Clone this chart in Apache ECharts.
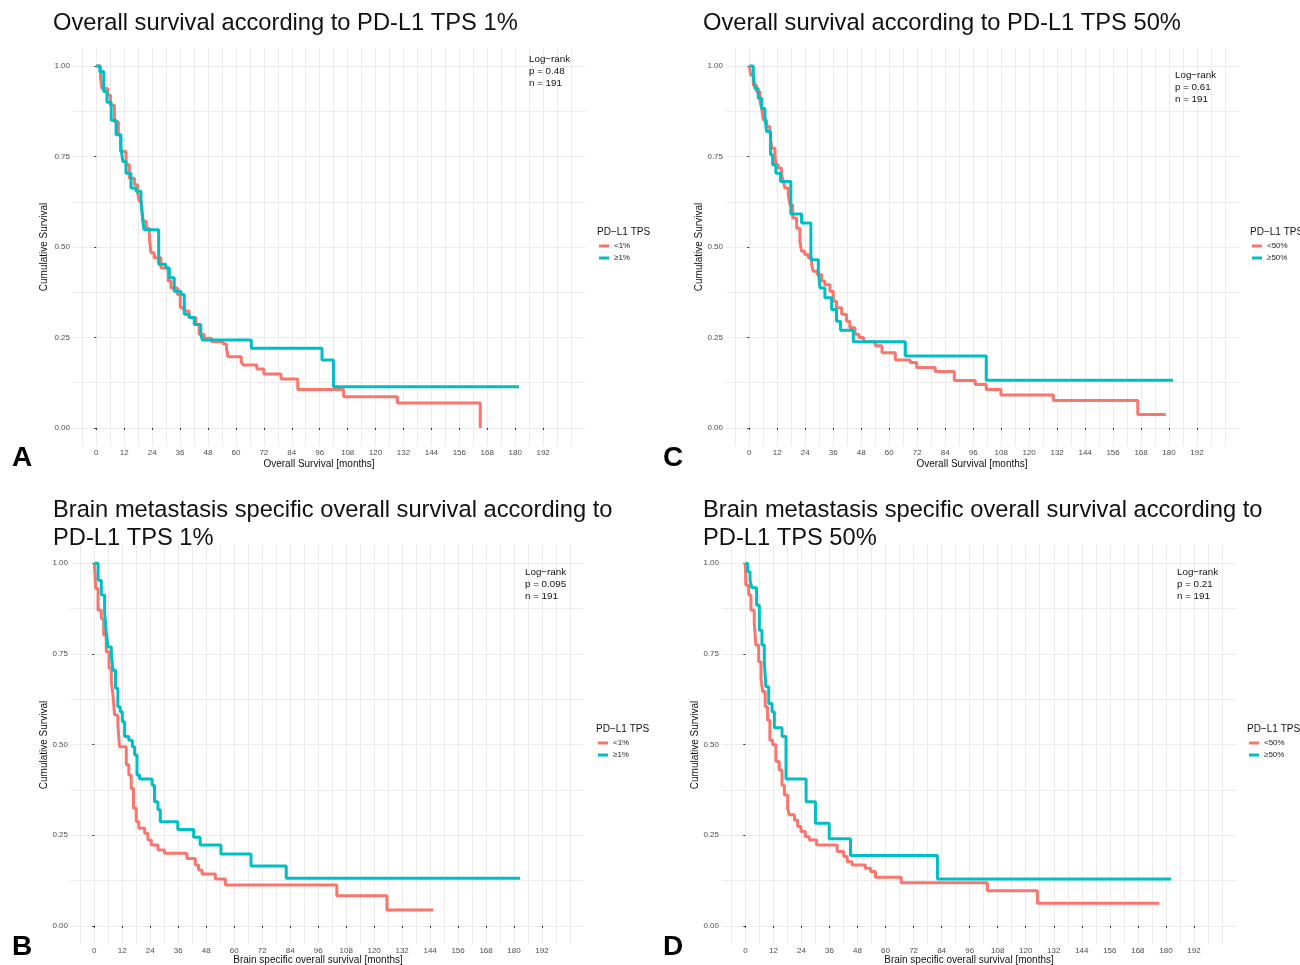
<!DOCTYPE html>
<html>
<head>
<meta charset="utf-8">
<script src="https://cdn.jsdelivr.net/npm/echarts@6/dist/echarts.min.js"></script>
<style>
  html, body { margin: 0; background: #fff; }
  #chart { width: 1300px; height: 965px; }
</style>
</head>
<body>
<div id="chart"></div>
<script>
(() => {
  "use strict";

  // axis breaks (months / survival)
  const xTicks = [0, 12, 24, 36, 48, 60, 72, 84, 96, 108, 120, 132, 144, 156, 168, 180, 192];
  const xGrid = [-6, 0, 6, 12, 18, 24, 30, 36, 42, 48, 54, 60, 66, 72, 78, 84, 90, 96, 102, 108, 114, 120,
    126, 132, 138, 144, 150, 156, 162, 168, 174, 180, 186, 192, 198, 204];
  const yTicks = [0, 0.25, 0.5, 0.75, 1];
  const yGrid = [0, 0.125, 0.25, 0.375, 0.5, 0.625, 0.75, 0.875, 1];

  // A: overall survival, TPS 1%
  const osTps1LowT = [0, 1.8, 2.4, 4.9, 6.1, 7.8, 9.5, 10.4, 12.8, 14.2, 16.4, 17.8, 18.5, 19.5, 20.1, 21.5, 22.8, 23.5,
    24.9, 27.8, 30.9, 32.1, 34.9, 36.1, 37.8, 39.9, 42.8, 44.2, 46.4, 49.5, 54.5, 56, 56.6, 62.3, 63, 69, 72, 79.4,
    86.6, 106.3, 129.4, 165];
  const osTps1LowS = [1, 0.97, 0.938, 0.92, 0.892, 0.846, 0.81, 0.764, 0.727, 0.69, 0.672, 0.649, 0.626, 0.608, 0.571,
    0.552, 0.525, 0.484, 0.47, 0.442, 0.406, 0.387, 0.369, 0.332, 0.323, 0.305, 0.286, 0.259, 0.248, 0.238, 0.232,
    0.218, 0.197, 0.183, 0.174, 0.163, 0.149, 0.135, 0.106, 0.086, 0.069, 0];
  const osTps1HighT = [0, 1.5, 3.2, 4.6, 6.4, 8.5, 10.6, 11.4, 12.8, 14.9, 17.1, 19.2, 19.9, 20.5, 26.8, 29.9, 31.4,
    33.5, 36.4, 37.8, 39.9, 42.1, 44.9, 45.6, 66.6, 97, 101.9, 181.6];
  const osTps1HighS = [1, 0.985, 0.93, 0.9, 0.85, 0.81, 0.775, 0.736, 0.704, 0.663, 0.654, 0.626, 0.58, 0.548, 0.452,
    0.442, 0.415, 0.378, 0.369, 0.314, 0.305, 0.286, 0.259, 0.243, 0.22, 0.188, 0.114, 0.114];

  // C: overall survival, TPS 50%
  const osTps50LowT = [0, 0.6, 1.7, 3.1, 4.6, 5.3, 6, 7.4, 8.8, 9.6, 11, 11.4, 12.4, 13.8, 14.6, 15.3, 16.7, 17.4, 18.6,
    20.3, 21.7, 22.4, 23.8, 25.3, 26.7, 27.4, 29.1, 31, 32.4, 34.6, 36, 37.4, 39.6, 41.7, 43.1, 45.3, 47, 49, 54, 56.9,
    62.6, 69, 71.8, 79.7, 87.9, 96.9, 101.6, 107.9, 130.4, 166.6, 178.6];
  const osTps50LowS = [1, 0.975, 0.947, 0.929, 0.901, 0.883, 0.851, 0.833, 0.819, 0.773, 0.755, 0.727, 0.718, 0.699,
    0.681, 0.663, 0.644, 0.617, 0.58, 0.552, 0.516, 0.488, 0.479, 0.47, 0.451, 0.433, 0.424, 0.406, 0.396, 0.378, 0.35,
    0.332, 0.314, 0.295, 0.277, 0.259, 0.25, 0.238, 0.227, 0.208, 0.188, 0.181, 0.167, 0.156, 0.131, 0.12, 0.106,
    0.091, 0.076, 0.037, 0.037];
  const osTps50HighT = [0, 1.7, 2.4, 3.8, 5.3, 6.7, 7.4, 9.1, 10, 11.4, 13.4, 17.8, 22.4, 26.4, 29.6, 30.3, 32.4, 35.3,
    37.4, 39.1, 44.6, 66.9, 101.6, 181.7];
  const osTps50HighS = [1, 0.975, 0.938, 0.911, 0.883, 0.86, 0.819, 0.755, 0.727, 0.704, 0.681, 0.591, 0.566, 0.465,
    0.433, 0.387, 0.36, 0.327, 0.295, 0.27, 0.238, 0.199, 0.132, 0.132];

  // B: brain metastasis specific OS, TPS 1%
  const bmTps1LowT = [0, 0.6, 1.6, 3, 4, 5.1, 6.3, 7.3, 8, 8.7, 10.1, 10.8, 13.7, 14.8, 15.8, 16.8, 18, 19.1, 21.6, 23,
    24.4, 27.3, 30.1, 39.7, 43.3, 44.7, 46.2, 51.9, 56.2, 104, 125.5, 145.4];
  const bmTps1LowS = [1, 0.93, 0.87, 0.847, 0.802, 0.756, 0.71, 0.673, 0.636, 0.581, 0.554, 0.494, 0.444, 0.416, 0.379,
    0.324, 0.287, 0.269, 0.255, 0.237, 0.223, 0.209, 0.2, 0.186, 0.168, 0.154, 0.143, 0.129, 0.113, 0.083, 0.044, 0.044];
  const bmTps1HighT = [0, 1.6, 3, 4.4, 5.1, 5.8, 7.3, 8, 9.1, 10.1, 11.1, 12, 13, 14.8, 16.3, 17.3, 18.3, 19.4, 24.8,
    25.8, 27.3, 28.3, 35.8, 42.6, 45.4, 54.3, 67.2, 82.3, 182.6];
  const bmTps1HighS = [1, 0.953, 0.912, 0.866, 0.811, 0.769, 0.747, 0.705, 0.655, 0.604, 0.59, 0.563, 0.522, 0.512,
    0.494, 0.471, 0.416, 0.405, 0.388, 0.342, 0.32, 0.287, 0.266, 0.244, 0.223, 0.198, 0.165, 0.131, 0.131];

  // D: brain metastasis specific OS, TPS 50%
  const bmTps50LowT = [0, 0.2, 1.4, 2.4, 3.8, 4.5, 5.7, 6.7, 7.4, 8.5, 9.5, 10.5, 11.7, 13.1, 14.5, 15.7, 16.7, 18.1,
    18.8, 21, 22.4, 23.8, 25.7, 27.4, 30.5, 39.3, 42.1, 43.6, 45.7, 51.4, 53.6, 55.7, 66.7, 103.6, 125, 177.2];
  const bmTps50LowS = [1, 0.939, 0.912, 0.87, 0.838, 0.774, 0.728, 0.682, 0.646, 0.604, 0.567, 0.512, 0.499, 0.453,
    0.43, 0.388, 0.361, 0.324, 0.306, 0.292, 0.274, 0.26, 0.246, 0.237, 0.223, 0.205, 0.191, 0.177, 0.168, 0.159, 0.15,
    0.134, 0.119, 0.097, 0.062, 0.062];
  const bmTps50HighT = [0, 1, 2, 2.8, 4.8, 6, 7.1, 8.1, 8.8, 10, 11.4, 12.4, 15.7, 17.4, 26, 30, 35.9, 45, 82.2, 182.2];
  const bmTps50HighS = [1, 0.976, 0.953, 0.932, 0.884, 0.815, 0.774, 0.728, 0.659, 0.613, 0.59, 0.546, 0.522, 0.405,
    0.342, 0.283, 0.24, 0.194, 0.129, 0.129];

  const RED = "#F8766D";
  const TEAL = "#00BFC4";
  const FONT = "'Liberation Sans', Arial, Helvetica, sans-serif";

  const panels = [
    {
      letter: "A", letterAt: [22, 458],
      title: ["Overall survival according to PD-L1 TPS 1%"], titleAt: [53, 23],
      grid: { left: 73, top: 48, width: 512, height: 398 },
      xName: "Overall Survival [months]", xNameAt: [319, 464], yNameAt: [44, 247],
      stats: "Log−rank\np = 0.48\nn = 191", statsAt: [529, 53],
      legendAt: [597, 227], names: ["<1%", "≥1%"],
      low: [osTps1LowT, osTps1LowS], high: [osTps1HighT, osTps1HighS]
    },
    {
      letter: "C", letterAt: [673, 458],
      title: ["Overall survival according to PD-L1 TPS 50%"], titleAt: [703, 23],
      grid: { left: 726, top: 48, width: 513, height: 398 },
      xName: "Overall Survival [months]", xNameAt: [972, 464], yNameAt: [699, 247],
      stats: "Log−rank\np = 0.61\nn = 191", statsAt: [1175, 69],
      legendAt: [1250, 227], names: ["<50%", "≥50%"],
      low: [osTps50LowT, osTps50LowS], high: [osTps50HighT, osTps50HighS]
    },
    {
      letter: "B", letterAt: [22, 947],
      title: ["Brain metastasis specific overall survival according to", "PD-L1 TPS 1%"], titleAt: [53, 510],
      grid: { left: 71, top: 545, width: 513, height: 399 },
      xName: "Brain specific overall survival [months]", xNameAt: [318, 960], yNameAt: [44, 745],
      stats: "Log−rank\np = 0.095\nn = 191", statsAt: [525, 566],
      legendAt: [596, 724], names: ["<1%", "≥1%"],
      low: [bmTps1LowT, bmTps1LowS], high: [bmTps1HighT, bmTps1HighS]
    },
    {
      letter: "D", letterAt: [673, 947],
      title: ["Brain metastasis specific overall survival according to", "PD-L1 TPS 50%"], titleAt: [703, 510],
      grid: { left: 722, top: 545, width: 514, height: 399 },
      xName: "Brain specific overall survival [months]", xNameAt: [969, 960], yNameAt: [695, 745],
      stats: "Log−rank\np = 0.21\nn = 191", statsAt: [1177, 566],
      legendAt: [1247, 724], names: ["<50%", "≥50%"],
      low: [bmTps50LowT, bmTps50LowS], high: [bmTps50HighT, bmTps50HighS]
    }
  ];

  const zip = (t, s) => t.map((v, i) => [v, s[i]]);

  const grid = [];
  const xAxis = [];
  const yAxis = [];
  const series = [];
  const legend = [];
  const graphic = [];

  const text = (x, y, str, style, extra) => Object.assign({
    type: "text", x, y, z: 100,
    style: Object.assign({ text: str, fill: "#111", fontFamily: FONT }, style)
  }, extra || {});

  panels.forEach((p, i) => {
    grid.push(Object.assign({ containLabel: false }, p.grid));

    // axis carrying the fine gridlines only
    xAxis.push({
      type: "value", gridIndex: i, min: -10, max: 210, position: "top",
      axisLine: { show: false }, axisLabel: { show: false },
      axisTick: { show: false, customValues: xGrid },
      splitLine: { show: true, lineStyle: { color: "#EBEBEB", width: 1 } }
    });
    // axis carrying ticks and labels
    xAxis.push({
      type: "value", gridIndex: i, min: -10, max: 210, position: "bottom",
      axisLine: { show: false }, splitLine: { show: false },
      axisTick: { show: true, customValues: xTicks, length: 2, lineStyle: { color: "#333", width: 1 } },
      axisLabel: { customValues: xTicks, fontSize: 8, color: "#4D4D4D", margin: 3, fontFamily: FONT }
    });
    yAxis.push({
      type: "value", gridIndex: i, min: -0.05, max: 1.05, position: "right",
      axisLine: { show: false }, axisLabel: { show: false },
      axisTick: { show: false, customValues: yGrid },
      splitLine: { show: true, lineStyle: { color: "#EBEBEB", width: 1 } }
    });
    yAxis.push({
      type: "value", gridIndex: i, min: -0.05, max: 1.05, position: "left",
      axisLine: { show: false }, splitLine: { show: false },
      axisTick: { show: true, customValues: yTicks, length: 2, lineStyle: { color: "#333", width: 1 } },
      axisLabel: {
        customValues: yTicks, fontSize: 8, color: "#4D4D4D", margin: 3, fontFamily: FONT,
        formatter: (v) => Number(v).toFixed(2)
      }
    });

    [[p.low, RED, p.names[0]], [p.high, TEAL, p.names[1]]].forEach(([d, color, name]) => {
      series.push({
        type: "line", name, step: "end", xAxisIndex: 2 * i, yAxisIndex: 2 * i,
        data: zip(d[0], d[1]), showSymbol: false, symbol: "none", silent: true,
        color, lineStyle: { color, width: 3 }
      });
    });

    legend.push({
      data: p.names, orient: "vertical", left: p.legendAt[0] + 2, top: p.legendAt[1] + 15, padding: 0,
      icon: "rect", itemWidth: 10, itemHeight: 3, itemGap: 4, selectedMode: false,
      textStyle: { fontSize: 8, color: "#222", fontFamily: FONT, padding: [0, 0, 0, 0] }
    });

    graphic.push(text(p.legendAt[0], p.legendAt[1], "PD−L1 TPS", { fontSize: 10, textVerticalAlign: "top" }));
    p.title.forEach((line, k) => {
      graphic.push(text(p.titleAt[0], p.titleAt[1] + k * 28, line, { fontSize: 23.7, textVerticalAlign: "middle" }));
    });
    graphic.push(text(p.letterAt[0], p.letterAt[1], p.letter, {
      fontSize: 28, fontWeight: "bold", fill: "#000", textAlign: "center", textVerticalAlign: "middle"
    }));
    graphic.push(text(p.xNameAt[0], p.xNameAt[1], p.xName, {
      fontSize: 10, textAlign: "center", textVerticalAlign: "middle"
    }));
    graphic.push(text(p.yNameAt[0], p.yNameAt[1], "Cumulative Survival", {
      fontSize: 10, textAlign: "center", textVerticalAlign: "middle"
    }, { rotation: Math.PI / 2 }));
    graphic.push(text(p.statsAt[0], p.statsAt[1], p.stats, {
      fontSize: 9.8, lineHeight: 12, textVerticalAlign: "top"
    }));
  });

  const chart = echarts.init(document.getElementById("chart"), null, { renderer: "canvas" });
  chart.setOption({
    backgroundColor: "#fff",
    animation: false,
    grid, xAxis, yAxis, series, legend, graphic
  });
})();
</script>
</body>
</html>
